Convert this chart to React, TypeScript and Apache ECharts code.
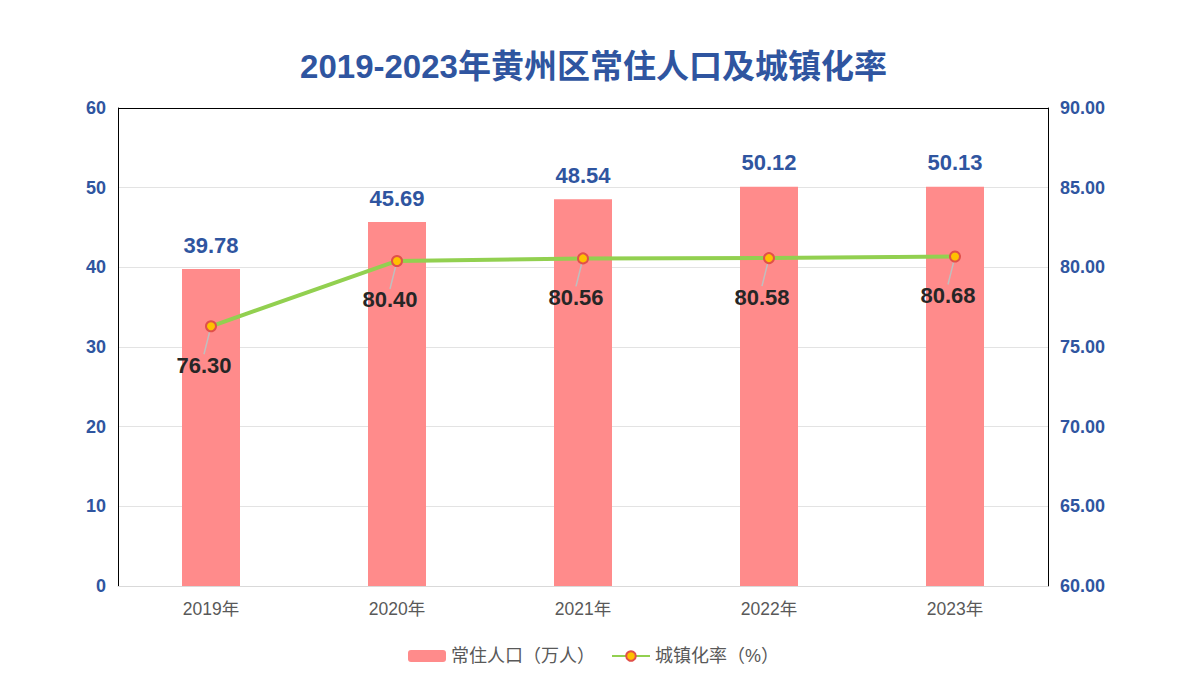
import React, { useEffect, useRef } from "react";
import * as echarts from "echarts";

const categories = ["2019年", "2020年", "2021年", "2022年", "2023年"];
const population = [39.78, 45.69, 48.54, 50.12, 50.13];
const urbanRate = [76.3, 80.4, 80.56, 80.58, 80.68];
const seriesNames = ["常住人口（万人）", "城镇化率（%）"];
const titleText = "2019-2023年黄州区常住人口及城镇化率";

const FONT = "'Liberation Sans', Arial, 'Noto Sans CJK SC', sans-serif";
const BLUE = "#2f55a0";

export default function App() {
  const ref = useRef<HTMLDivElement>(null);
  useEffect(() => {
    document.body.style.margin = "0";
    const chart = echarts.init(ref.current!, null, { renderer: "svg" });
    chart.setOption({
      animation: false,
      backgroundColor: "#ffffff",
      textStyle: { fontFamily: FONT },
      title: {
        text: titleText,
        left: "center",
        top: 45,
        textStyle: { fontSize: 33, fontWeight: "bold", color: BLUE, fontFamily: FONT },
      },
      legend: {
        bottom: 29,
        left: "center",
        itemWidth: 38,
        itemHeight: 12,
        itemGap: 16,
        textStyle: { fontSize: 18, color: "#595959", fontFamily: FONT },
        data: [seriesNames[0], seriesNames[1]],
      },
      grid: { left: 118, right: 139, top: 108, bottom: 113 },
      xAxis: {
        type: "category",
        data: categories,
        axisLine: { lineStyle: { color: "#d9d9d9" } },
        axisTick: { show: false },
        axisLabel: { fontSize: 17.5, color: "#595959", margin: 14 },
      },
      yAxis: [
        {
          type: "value",
          min: 0,
          max: 60,
          interval: 10,
          axisLine: { show: true, lineStyle: { color: "#000000" } },
          axisTick: { show: false },
          axisLabel: { fontSize: 18, fontWeight: "bold", color: BLUE, margin: 12 },
          splitLine: {
            lineStyle: {
              color: ["#e3e3e3", "#e3e3e3", "#e3e3e3", "#e3e3e3", "#e3e3e3", "#e3e3e3", "#000000"],
            },
          },
        },
        {
          type: "value",
          min: 60,
          max: 90,
          interval: 5,
          position: "right",
          axisLine: { show: true, lineStyle: { color: "#000000" } },
          axisTick: { show: false },
          axisLabel: {
            fontSize: 18,
            fontWeight: "bold",
            color: BLUE,
            margin: 12,
            formatter: (v: number) => v.toFixed(2),
          },
          splitLine: { show: false },
        },
      ],
      series: [
        {
          name: seriesNames[0],
          type: "bar",
          data: population,
          barWidth: 58,
          itemStyle: { color: "#ff8b8b" },
          label: {
            show: true,
            position: "top",
            distance: 13,
            fontSize: 22,
            fontWeight: "bold",
            color: BLUE,
            formatter: (p: any) => p.value.toFixed(2),
          },
        },
        {
          name: seriesNames[1],
          type: "line",
          yAxisIndex: 1,
          data: urbanRate,
          symbol: "circle",
          symbolSize: 10,
          lineStyle: { color: "#92d050", width: 4 },
          itemStyle: { color: "#ffc000", borderColor: "#e0504a", borderWidth: 2 },
          label: {
            show: true,
            position: "bottom",
            distance: 4,
            fontSize: 22,
            fontWeight: "bold",
            color: "#262626",
            formatter: (p: any) => p.value.toFixed(2),
          },
          labelLayout: { dx: -7, dy: 18 },
          labelLine: { show: true, lineStyle: { color: "#bfbfbf", width: 1.5 } },
        },
      ],
    });
    return () => chart.dispose();
  }, []);
  return <div ref={ref} style={{ width: 1187, height: 699 }} />;
}
